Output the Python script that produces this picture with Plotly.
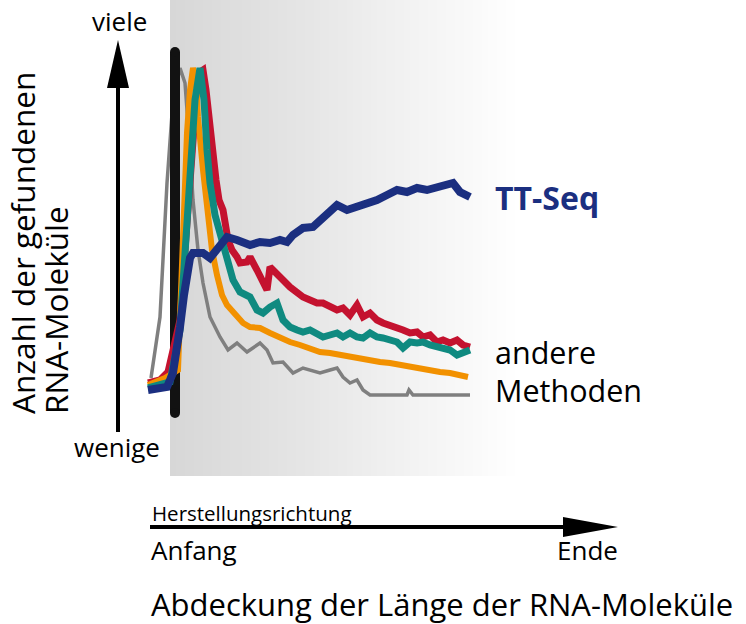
import plotly.graph_objects as go

# ---- data (position along the RNA, arbitrary units; count, arbitrary units) ----
gray_x = [-24, -15, -8, -2, 5, 10, 15, 18, 23, 28, 35, 45, 53, 62, 72,
          75, 85, 92, 98, 108, 118, 128, 135, 145, 155, 162, 168, 175, 182, 188, 195, 232, 234, 238, 295]
gray_y = [17, 78, 212, 295, 327, 312, 245, 195, 145, 112, 78, 58, 45, 52, 43,
          45, 52, 45, 32, 33, 22, 27, 25, 22, 25, 27, 18, 12, 15, 5, 0, 0, 5, 0, 0]

orange_x = [-27, -10, 3, 5, 8, 12, 15, 18, 21, 23, 28, 33, 37, 42, 47, 52, 60, 68,
            75, 85, 95, 105, 115, 125, 135, 145, 155, 165, 175, 185, 195, 205, 215, 225, 235, 245, 255, 265, 275, 285, 293]
orange_y = [10, 17, 25, 78, 178, 262, 305, 327, 315, 278, 225, 178, 145, 120, 100, 90, 80, 72,
            68, 67, 62, 57, 53, 50, 47, 43, 42, 40, 38, 37, 35, 33, 32, 30, 28, 27, 25, 23, 22, 20, 18]

teal_x = [-27, -5, 5, 10, 15, 20, 25, 29, 32, 35, 40, 45, 52, 58, 65, 70,
          75, 82, 88, 95, 102, 108, 115, 122, 128, 135, 142, 148, 155, 162, 168, 175, 182, 188, 195, 202,
          208, 215, 222, 228, 235, 242, 248, 255, 262, 268, 275, 282, 288, 295]
teal_y = [7, 13, 65, 145, 235, 295, 327, 295, 245, 212, 180, 162, 135, 115, 103, 100,
          98, 85, 82, 88, 92, 75, 68, 65, 63, 65, 62, 58, 60, 62, 58, 62, 58, 57, 62, 58,
          57, 55, 53, 47, 53, 52, 53, 50, 48, 47, 45, 40, 43, 45]

red_x = [-27, -15, -7, 5, 10, 15, 21, 25, 28, 31, 33, 37, 41, 44, 48, 53, 57, 62, 65, 72,
         75, 82, 88, 92, 95, 102, 108, 115, 122, 128, 135, 142, 148, 155, 162, 168, 175, 182, 188, 195,
         202, 208, 215, 222, 228, 235, 242, 248, 255, 262, 268, 275, 282, 288, 295]
red_y = [12, 15, 23, 75, 145, 225, 295, 323, 325, 305, 285, 245, 215, 195, 185, 155, 145, 138, 132, 133,
         138, 125, 115, 105, 128, 122, 115, 108, 102, 98, 95, 92, 92, 88, 85, 87, 80, 90, 78, 82,
         75, 72, 70, 68, 65, 62, 63, 58, 60, 53, 55, 52, 55, 50, 48]

blue_x = [-27, -15, -8, -2, 2, 5, 9, 12, 15, 18, 23, 28, 35, 43, 52, 62,
          75, 85, 95, 105, 112, 118, 128, 138, 148, 162, 172, 182, 192, 202, 212, 222, 232, 242, 252, 262,
          272, 278, 285, 295]
blue_y = [5, 6, 8, 22, 45, 68, 100, 122, 137, 142, 143, 142, 137, 148, 158, 155,
          150, 153, 152, 155, 153, 160, 167, 168, 177, 190, 185, 188, 193, 195, 200, 205, 203, 207, 205, 208,
          210, 212, 203, 198]

marker_x = [0, 0]          # start of the gene (black bar)
marker_y = [-18, 343]

# background gradient stops (relative position, grey level)
bg_stops = [0.0, 0.35, 0.7, 1.0]
bg_levels = [215, 228, 243, 255]

# ---- geometry helpers (pixel layout of the 746x624 canvas) ----
W, H = 746, 624
X0_PX, Y0_PX = 175, 395     # pixel position of data origin
XR = [-X0_PX, W - X0_PX]
YR = [-(H - Y0_PX), Y0_PX]


def px(x):
    return x / W


def py(y):
    return 1 - y / H


FONT = "Open Sans"

fig = go.Figure()

fig.add_trace(go.Scatter(x=gray_x, y=gray_y, mode="lines",
                         line=dict(color="#7f7f7f", width=3.5), showlegend=False))
fig.add_trace(go.Scatter(x=marker_x, y=marker_y, mode="lines+markers",
                         line=dict(color="#121212", width=10),
                         marker=dict(color="#121212", size=10), showlegend=False))
fig.add_trace(go.Scatter(x=red_x, y=red_y, mode="lines",
                         line=dict(color="#c4122f", width=7), showlegend=False))
fig.add_trace(go.Scatter(x=orange_x, y=orange_y, mode="lines",
                         line=dict(color="#f29100", width=6), showlegend=False))
fig.add_trace(go.Scatter(x=teal_x, y=teal_y, mode="lines",
                         line=dict(color="#0f8a80", width=7), showlegend=False))
fig.add_trace(go.Scatter(x=blue_x, y=blue_y, mode="lines",
                         line=dict(color="#1b2f80", width=8), showlegend=False))

shapes = []

# gradient background panel built from thin strips
P_LEFT, P_RIGHT, P_BOTTOM = 170, 520, 476
step = 3
xs = P_LEFT
while xs < P_RIGHT:
    t = (xs + step / 2 - P_LEFT) / (P_RIGHT - P_LEFT)
    g = 255
    for i in range(len(bg_stops) - 1):
        if bg_stops[i] <= t <= bg_stops[i + 1]:
            f = (t - bg_stops[i]) / (bg_stops[i + 1] - bg_stops[i])
            g = round(bg_levels[i] + f * (bg_levels[i + 1] - bg_levels[i]))
            break
    shapes.append(dict(type="rect", xref="paper", yref="paper", layer="below",
                       x0=px(xs), x1=px(min(xs + step + 0.6, P_RIGHT)), y0=py(P_BOTTOM), y1=py(0),
                       fillcolor=f"rgb({g},{g},{g})", line=dict(width=0)))
    xs += step

shapes += [
    # vertical arrow shaft + head
    dict(type="line", xref="paper", yref="paper", x0=px(118), x1=px(118), y0=py(432), y1=py(80),
         line=dict(color="black", width=4)),
    dict(type="path", xref="paper", yref="paper",
         path=f"M {px(107)} {py(88)} L {px(129)} {py(88)} L {px(118)} {py(40)} Z",
         fillcolor="black", line=dict(width=0)),
    # horizontal arrow shaft + head
    dict(type="line", xref="paper", yref="paper", x0=px(150), x1=px(570), y0=py(527), y1=py(527),
         line=dict(color="black", width=4)),
    dict(type="path", xref="paper", yref="paper",
         path=f"M {px(563)} {py(517)} L {px(563)} {py(537)} L {px(618)} {py(527)} Z",
         fillcolor="black", line=dict(width=0)),
]

ann = []


def text(t, x, y, size, xanchor="left", yanchor="middle", color="black", angle=0, bold=False):
    ann.append(dict(text=f"<b>{t}</b>" if bold else t, x=px(x), y=py(y), xref="paper", yref="paper",
                    xanchor=xanchor, yanchor=yanchor, showarrow=False, textangle=angle,
                    font=dict(family=FONT, size=size, color=color)))


text("viele", 119, 21, 26, xanchor="center")
text("wenige", 117, 447, 26, xanchor="center")
text("Anzahl der gefundenen", 22, 416, 31.5, xanchor="center", yanchor="bottom", angle=-90)
text("RNA-Moleküle", 55, 416, 31.5, xanchor="center", yanchor="bottom", angle=-90)
text("TT-Seq", 493, 197, 32, color="#1b2f80", bold=True)
text("andere", 493, 352, 30.5)
text("Methoden", 493, 390, 30.5)
text("Herstellungsrichtung", 150, 513, 20.5)
text("Anfang", 149, 550, 26)
text("Ende", 620, 550, 26, xanchor="right")
text("Abdeckung der Länge der RNA-Moleküle", 149, 604, 31)

fig.update_layout(
    width=W, height=H, margin=dict(l=0, r=0, t=0, b=0),
    paper_bgcolor="white", plot_bgcolor="rgba(0,0,0,0)",
    xaxis=dict(range=XR, visible=False, fixedrange=True),
    yaxis=dict(range=YR, visible=False, fixedrange=True),
    shapes=shapes, annotations=ann, showlegend=False, hovermode=False,
)

fig.write_html("out.html", config={"displayModeBar": False},
               post_script="document.body.style.margin='0';document.body.style.overflow='hidden';")
